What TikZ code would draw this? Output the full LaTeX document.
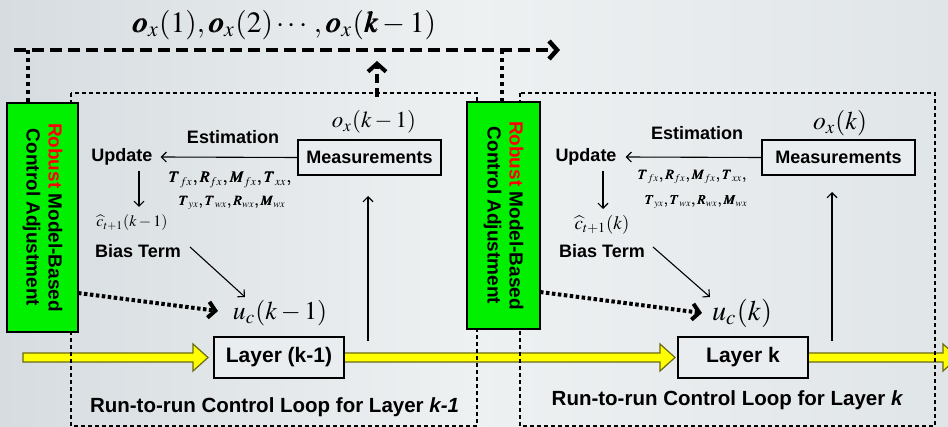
\documentclass[tikz,border=0pt]{standalone}
\usepackage{amsmath,amssymb}
\usepackage{mathptmx}
\usepackage{bm}
\usepackage[no-math]{fontspec}
\setsansfont{Liberation Sans}
\usetikzlibrary{arrows.meta}
\definecolor{bgL}{RGB}{214,220,224}
\definecolor{bgM}{RGB}{238,241,242}
\definecolor{bgR}{RGB}{224,229,232}
\definecolor{boxfill}{RGB}{234,237,239}
\definecolor{grn}{RGB}{0,240,0}
\definecolor{yel}{RGB}{255,255,0}
\definecolor{yelline}{RGB}{105,105,20}
\newcommand{\rsw}[2]{\resizebox{#1}{!}{#2}}
\begin{document}
\begin{tikzpicture}[x=1pt,y=-1pt,
  lab/.style={font=\sffamily\bfseries\fontsize{18}{20}\selectfont, inner sep=0pt},
  runlab/.style={font=\sffamily\bfseries\fontsize{20.5}{22}\selectfont, inner sep=0pt},
  gbox/.style={draw=black, line width=2.5pt, fill=grn, align=center, inner sep=0pt,
               font=\sffamily\bfseries\fontsize{19}{22}\selectfont},
  mbox/.style={draw=black, line width=2pt, fill=boxfill, inner sep=0pt,
               font=\sffamily\bfseries\fontsize{18}{20}\selectfont},
  lbox/.style={draw=black, line width=2pt, fill=boxfill, inner sep=0pt,
               font=\sffamily\bfseries\fontsize{21}{24}\selectfont},
  mathlab/.style={inner sep=0pt},
  yarrow/.style={fill=yel, draw=yelline, line width=1.2pt, line join=miter},
  loopline/.style={draw=black, line width=1.2pt, dash pattern=on 4pt off 3pt},
  thinarr/.style={line width=1.1pt, -{Straight Barb[length=5pt,width=10pt]}},
  thickdash/.style={line width=4.5pt, dash pattern=on 12pt off 6pt, -{Straight Barb[length=8pt,width=18pt]}},
  updash/.style={line width=4pt, dash pattern=on 9pt off 5pt, -{Straight Barb[length=8pt,width=18pt]}},
  dotv/.style={line width=4pt, dash pattern=on 4pt off 4pt},
  dotarr/.style={line width=4pt, dash pattern=on 3.5pt off 2.5pt, -{Straight Barb[length=7pt,width=16pt]}}
]
\useasboundingbox (0,0) rectangle (948,427);
\shade[left color=bgL, right color=bgR, middle color=bgM] (0,0) rectangle (948,427);

% yellow process arrows
\path[yarrow] (23,353) -- (193,353) -- (193,344) -- (208,357.5) -- (193,371) -- (193,362) -- (23,362) -- cycle;
\path[yarrow] (344,353) -- (660,353) -- (660,344) -- (675,357.5) -- (660,371) -- (660,362) -- (344,362) -- cycle;
\path[yarrow] (808,353) -- (943,353) -- (943,344) -- (958,357.5) -- (943,371) -- (943,362) -- (808,362) -- cycle;

% loop frames
\draw[loopline] (71,93) rectangle (477,426);
\draw[loopline] (520,93) rectangle (935,426);

% top label and feed-forward line
\node[mathlab] (ox) at (284,25) {\rsw{304pt}{$\bm{o}_x(1),\bm{o}_x(2)\cdots,\bm{o}_x(\bm{k}-1)$}};
\coordinate (tl) at (14,50);
\coordinate (tr) at (560,50);
\coordinate (v1t) at (28,50);
\coordinate (v2t) at (502,50);
\coordinate (upb) at (377,97);
\coordinate (upt) at (377,61);
\draw[thickdash] (tl) -- (tr);

% green boxes
\node[gbox, rotate=-90, minimum width=229pt, minimum height=71pt] (g1) at (42.5,217.5)
  {\textcolor{red}{Robust} Model-Based\\Control Adjustment};
\node[gbox, rotate=-90, minimum width=227pt, minimum height=73pt] (g2) at (503.5,215.5)
  {\textcolor{red}{Robust} Model-Based\\Control Adjustment};
\coordinate (v1b) at (28,103);
\coordinate (v2b) at (502,102);
\draw[dotv] (v1t) -- (v1b);
\draw[dotv] (v2t) -- (v2b);
\draw[updash] (upb) -- (upt);

% measurement boxes
\node[mbox, minimum width=143pt, minimum height=35pt] (m1) at (369.5,157.5) {Measurements};
\node[mbox, minimum width=153pt, minimum height=35pt] (m2) at (838.5,157.5) {Measurements};
\node[mathlab] (o1) at (374,122) {\rsw{84pt}{$o_x(k-1)$}};
\node[mathlab] (o2) at (840,123) {\rsw{54pt}{$o_x(k)$}};

% layer boxes
\node[lbox, minimum width=130pt, minimum height=41pt] (l1) at (279,357.5) {Layer (k-1)};
\node[lbox, minimum width=130pt, minimum height=41pt] (l2) at (743,357.5) {Layer k};

% labels loop 1
\node[lab] (e1) at (233,137) {Estimation};
\node[lab] (u1) at (122,157) {Update};
\node[lab] (b1) at (138,251) {Bias Term};
\node[mathlab] (t1a) at (230,180) {\rsw{123pt}{$\bm{T_{fx},R_{fx},M_{fx},T_{xx},}$}};
\node[mathlab] (t1b) at (232,203) {\rsw{107pt}{$\bm{T_{yx},T_{wx},R_{wx},M_{wx}}$}};
\node[mathlab] (c1) at (132,223) {\rsw{71pt}{$\widehat{c}_{t+1}(k-1)$}};
\node[mathlab] (uc1) at (280,313) {\rsw{94pt}{$u_c(k-1)$}};
\node[runlab] (r1) at (274.5,407) {Run-to-run Control Loop for Layer \textit{k-1}};

% labels loop 2
\node[lab] (e2) at (697,133) {Estimation};
\node[lab] (u2) at (586,157) {Update};
\node[lab] (b2) at (602,251) {Bias Term};
\node[mathlab] (t2a) at (692,177) {\rsw{109pt}{$\bm{T_{fx},R_{fx},M_{fx},T_{xx},}$}};
\node[mathlab] (t2b) at (696,202) {\rsw{103pt}{$\bm{T_{yx},T_{wx},R_{wx},M_{wx}}$}};
\node[mathlab] (c2) at (602,225) {\rsw{55pt}{$\widehat{c}_{t+1}(k)$}};
\node[mathlab] (uc2) at (742,313) {\rsw{60pt}{$u_c(k)$}};
\node[runlab] (r2) at (727.5,400) {Run-to-run Control Loop for Layer \textit{k}};

% connectors loop 1
\draw[thinarr] (m1.west) -- ([xshift=8pt]u1.east);
\coordinate (d1s) at (139,171);
\coordinate (d1e) at (139,207);
\draw[thinarr] (d1s) -- (d1e);
\coordinate (bb1) at (190,247);
\coordinate (ub1) at (245,297);
\draw[thinarr] (bb1) -- (ub1);
\coordinate (ls1) at (368,341);
\coordinate (le1) at (368,196);
\draw[thinarr] (ls1) -- (le1);
\coordinate (gs1) at (78,293);
\coordinate (ge1) at (218,311);
\draw[dotarr] (gs1) -- (ge1);

% connectors loop 2
\draw[thinarr] (m2.west) -- ([xshift=9pt]u2.east);
\coordinate (d2s) at (603,171);
\coordinate (d2e) at (603,209);
\draw[thinarr] (d2s) -- (d2e);
\coordinate (bb2) at (653,247);
\coordinate (ub2) at (710,297);
\draw[thinarr] (bb2) -- (ub2);
\coordinate (ls2) at (832,341);
\coordinate (le2) at (832,192);
\draw[thinarr] (ls2) -- (le2);
\coordinate (gs2) at (540,292);
\coordinate (ge2) at (702,313);
\draw[dotarr] (gs2) -- (ge2);
\end{tikzpicture}
\end{document}
